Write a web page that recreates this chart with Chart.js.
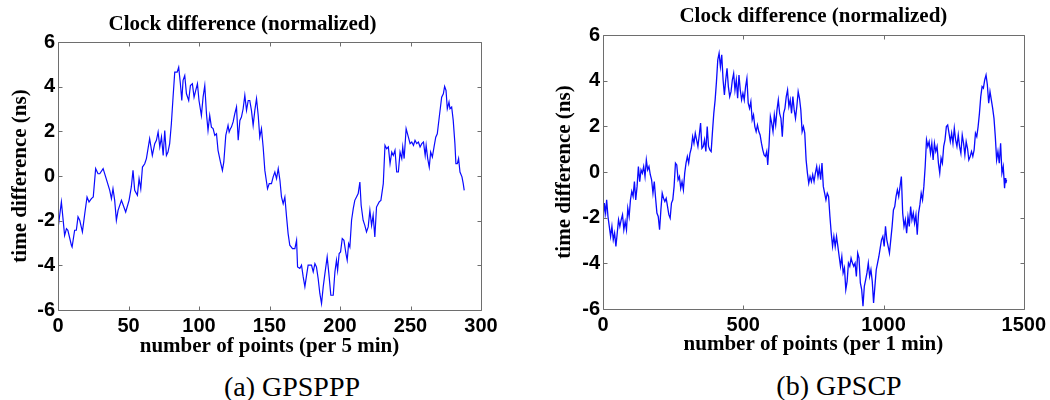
<!DOCTYPE html>
<html><head><meta charset="utf-8">
<script src="https://cdn.jsdelivr.net/npm/chart.js@4"></script>
<style>
html,body{margin:0;padding:0;background:#fff;width:1050px;height:400px;overflow:hidden}
canvas{position:absolute;top:0}
#cA{left:0}
#cB{left:525px}
.cap{position:absolute;font-family:"Liberation Serif","Times New Roman",serif;font-size:28px;color:#000;white-space:nowrap;transform:translate(-50%,-50%)}
</style></head><body>
<canvas id="cA" width="525" height="363"></canvas>
<canvas id="cB" width="525" height="361"></canvas>
<div class="cap" style="left:292px;top:387px">(a) GPSPPP</div>
<div class="cap" style="left:839px;top:386px">(b) GPSCP</div>
<script>
const chartTitle = 'Clock difference (normalized)';
const yTitle = 'time difference (ns)';
const leftXTitle = 'number of points (per 5 min)';
const rightXTitle = 'number of points (per 1 min)';
const yTicks = [-6, -4, -2, 0, 2, 4, 6];
const leftXTicks = [0, 50, 100, 150, 200, 250, 300];
const rightXTicks = [0, 500, 1000, 1500];

const leftX = [0,2.4,4.7,6,7,9.5,10,11.8,13,14.2,15.4,17.3,19,20.6,22,23.7,25,26.7,28.4,29.6,32,33.8,36.7,37.9,39,40.2,41.4,42.6,45,48,50.4,52,53.2,54.4,56.3,57.5,58.7,59.9,61.5,62.7,65,66.9,68.6,69.8,71,72.2,73.4,74.6,75.7,76.9,78,79.2,80.4,81.6,82.8,84.5,85.6,86.8,87.8,88.7,89.9,91.1,92.7,93.9,95.3,96.5,97.7,98.9,100,101.7,102.9,104.1,105.3,106.4,107.6,108.8,110,111.2,112.4,113.5,115.2,116.6,117.6,119,120.6,121.4,122.3,123,124.2,125.4,126.6,127.8,129,130.1,131.3,132.5,133.7,134.9,136,137.2,138.4,139.6,140.8,142,143.1,144.3,145.5,146.7,147.9,148.6,149.8,151.4,152.6,153.8,155,156.2,157.4,158.5,159.7,160.9,162.1,163.2,164.4,166.3,168,169.2,169.9,171.5,172.7,173.9,175.1,176.3,177.4,179.8,181,182.2,183.3,184.5,185.7,186.9,188.1,189.3,190.9,192.1,193.5,195.2,196.4,197.5,198.3,199.4,200.4,201.6,202.8,204.2,205.1,206.1,207,208.2,209.4,210.5,211.7,212.9,214.1,215,216.4,217.6,218.8,220,221.2,222.4,223.5,224.7,225.9,227.8,229,230.7,231.9,233.1,234.3,235.5,236.7,237.8,239,240.2,241.4,242.6,243.8,244.5,245.5,246.9,248.5,249.7,250.9,252.1,253.2,254.4,255.6,256.8,258,259.2,260.4,261.1,262.2,263.3,264.3,265.5,266.7,267.9,269,270.4,272.1,273.3,274.2,275.2,276.1,277.3,278,279.2,280.3,281.5,282.2,283.2,284.1,285.1,286.5,287.4,288.1];
const leftY = [-2.36,-1.16,-2.66,-2.36,-2.43,-3.1,-3.18,-2.43,-2.43,-1.83,-1.98,-2.5,-1.68,-0.94,-1.16,-1.01,-0.94,0.33,0.1,0.1,0.33,-0.04,-0.64,-1.01,-0.57,-1.09,-1.98,-1.54,-1.09,-1.61,-1.09,-0.49,0.25,-0.64,-0.86,-0.12,-0.57,0.4,0.55,0.78,1.67,0.92,1.45,1.6,1.97,1.3,1.75,0.92,2.04,0.92,1.07,1.45,2.34,3.53,4.65,4.65,4.87,4.13,3.38,4.28,4.5,3.68,3.38,4.05,4.13,3.53,3.83,4.13,3.38,2.71,3.53,4.05,2.79,2.04,2.71,2.19,2.12,1.82,1.89,1.15,0.63,0.25,0.63,1.82,2.27,1.97,2.12,2.19,2.42,2.79,3.09,1.6,2.49,2.64,3.01,3.61,2.94,3.38,3.38,2.94,2.27,2.94,3.46,2.71,1.74,2.12,1.3,0.25,-0.27,-0.57,-0.34,-0.34,-0.04,0.18,-0.12,0.33,-0.19,-0.94,-1.24,-0.94,-1.83,-2.58,-3.1,-3.25,-3.25,-2.88,-4.07,-4.14,-3.99,-4.52,-4.96,-4.44,-3.99,-3.99,-4.29,-3.92,-4.07,-4.59,-5.26,-5.71,-4.96,-4.37,-3.62,-4.37,-5.34,-5.34,-4.29,-3.77,-4.22,-3.47,-3.4,-2.8,-2.88,-3.47,-3.77,-3.03,-3.18,-1.98,-1.46,-1.09,-0.94,-0.79,-0.27,-1.31,-1.98,-2.21,-2.5,-2.28,-1.54,-2.21,-1.76,-2.73,-1.39,-1.16,-1.09,-0.34,1.37,1.22,1.3,0.55,1.07,0.92,1.15,0.18,0.18,1.07,0.78,1.3,0.78,2.12,1.74,1.45,1.52,1.37,1.6,1.45,1.52,1.3,1.45,1.52,0.92,1.37,0.78,0.4,1.07,0.85,1.3,1.74,1.89,2.64,3.53,3.68,4.01,3.83,3.01,3.31,3.01,3.09,2.49,1.45,0.55,0.55,0.78,0.18,-0.04,-0.34,-0.64];

const rightX = [0,4.7,9.4,13,17.7,22.4,27.1,31.8,36.6,41.3,46,50.7,55.4,60.1,64.9,69.6,74.3,79,83.7,88.4,93.2,97.9,102.6,107.3,112,116.7,121.5,126.2,130.9,135.6,140.3,145,149.8,154.5,159.2,163.9,168.6,173.3,178.1,182.8,187.5,192.2,196.9,201.7,206.4,211.1,215.8,220.5,225.2,230,234.7,239.4,244.1,248.8,253.5,258.3,263,267.7,272.4,277.1,281.8,286.6,291.3,296,300.7,305.4,310.1,314.9,319.6,324.3,329,333.7,338.4,343.2,347.9,352.6,357.3,362,366.7,371.5,376.2,380.9,385.6,390.3,395,399.8,404.5,409.2,413.9,418.6,423.3,428.1,432.8,437.5,442.2,446.9,451.7,456.4,461.1,465.8,470.5,475.2,480,484.7,489.4,494.1,498.8,503.5,508.3,513,517.7,522.4,527.1,531.8,536.6,541.3,546,550.7,555.4,560.1,564.9,569.6,574.3,579,583.7,587.3,592,596.7,601.4,606.1,610.8,615.6,620.3,625,629.7,634.4,639.2,643.9,648.6,653.3,658,662.7,667.5,672.2,676.9,681.6,686.3,691,695.8,700.5,705.2,709.9,714.6,719.3,724.1,728.8,733.5,738.2,742.9,747.6,752.4,757.1,761.8,766.5,771.2,775.9,780.7,785.4,790.1,794.8,799.5,804.2,809,813.7,818.4,823.1,827.8,832.5,837.3,842,846.7,851.4,856.1,860.8,865.6,870.3,875,879.7,884.4,889.2,893.9,898.6,903.3,908,912.7,917.5,922.2,926.9,931.6,936.3,941,945.8,950.5,955.2,959.9,964.6,969.3,974.1,978.8,983.5,988.2,992.9,997.6,1002.4,1007.1,1011.8,1016.5,1021.2,1025.9,1030.7,1035.4,1040.1,1044.8,1049.5,1054.2,1059,1063.7,1068.4,1073.1,1077.8,1082.5,1087.3,1092,1096.7,1101.4,1106.1,1110.8,1115.6,1120.3,1125,1129.7,1134.4,1139.2,1143.9,1148.6,1153.3,1158,1162.7,1167.5,1172.2,1176.9,1181.6,1186.3,1191,1195.8,1200.5,1205.2,1209.9,1214.6,1219.3,1224.1,1228.8,1233.5,1238.2,1242.9,1247.6,1252.4,1257.1,1261.8,1266.5,1271.2,1275.9,1280.7,1285.4,1290.1,1294.8,1299.5,1304.2,1309,1313.7,1318.4,1323.1,1327.8,1332.5,1337.3,1342,1346.7,1351.4,1356.1,1360.8,1365.6,1370.3,1375,1379.7,1384.4,1389.2,1393.9,1398.6,1403.3,1408,1412.7,1417.5,1422.2,1426.9,1431.6,1434,1436.3,1438.7];
const rightY = [-2.38,-1.36,-1.8,-1.22,-1.95,-2.38,-2.82,-2.38,-2.97,-2.68,-3.26,-2.68,-2.09,-2.38,-2.09,-1.87,-2.53,-2.17,-2.53,-1.58,-1.95,-1.22,-0.85,-1.07,-0.42,-1.22,-0.63,0.24,-0.42,0.09,-0.05,0.24,-0.2,0.53,0.09,0.24,-0.12,-0.34,-0.93,-0.42,-1.15,-1.8,-1.95,-2.53,-1.66,-0.93,-1.15,-1.29,-1.15,-1.51,-1.87,-2.02,-1.36,-1.22,-0.63,0.39,0.31,-0.34,-0.2,-0.71,-0.42,-0.78,-0.05,0.39,0.68,0.39,0.82,1.04,1.55,1.26,1.7,1.41,1.12,1.62,2.14,1.04,1.12,1.41,0.9,1.99,1.12,0.97,0.9,1.77,2.57,3.16,3.96,4.91,5.2,4.61,5.13,4.03,3.37,4.03,4.54,3.74,3.3,3.52,4.03,4.32,3.59,4.03,3.23,4.25,3.59,3.16,3.45,3.16,3.74,4.1,3.01,2.79,3.08,2.28,2.5,1.99,1.77,2.06,1.77,1.62,1.26,0.97,0.75,0.68,0.9,0.31,1.19,2.43,2.14,1.77,2.5,2.06,2.72,3.16,2.57,2.35,1.55,2.57,2.79,3.3,3.59,2.87,3.16,2.57,3.3,2.72,2.35,2.87,3.52,3.23,2.72,1.77,1.99,1.7,0.53,-0.05,-0.49,-0.2,-0.42,-0.12,-0.42,-0.05,0.24,-0.2,0.17,-0.34,0.39,-0.63,-0.93,-1.22,-0.93,-1.07,-1.95,-2.68,-3.26,-2.82,-3.26,-2.82,-3.26,-3.7,-4.13,-3.7,-4.42,-4.2,-5.15,-4.79,-3.99,-4.13,-3.77,-3.99,-4.13,-3.99,-4.57,-3.55,-3.77,-4.86,-5.15,-5.88,-5.01,-4.72,-4.42,-3.99,-4.57,-4.28,-4.79,-5.74,-5.01,-4.28,-3.99,-3.7,-3.33,-2.97,-2.82,-3.26,-2.38,-2.97,-3.26,-3.55,-2.97,-2.38,-1.66,-1.51,-1.07,-0.78,-1.07,-0.63,-0.2,-1.8,-2.38,-2.09,-2.68,-1.95,-2.38,-1.51,-2.09,-1.8,-2.24,-1.87,-2.75,-1.8,-1.44,-0.93,-1.22,-0.63,0.24,1.41,1.12,1.33,0.82,1.26,0.53,1.26,0.9,1.12,0.39,-0.05,0.61,0.39,1.12,1.41,1.99,2.06,1.7,1.33,1.7,1.26,1.92,1.41,1.12,1.62,1.12,0.82,1.62,1.26,0.75,1.33,1.04,0.53,0.68,0.9,0.68,0.97,1.7,1.55,1.99,2.57,3.3,3.74,3.67,4.03,4.25,3.81,3.01,3.52,3.16,2.79,2.35,1.55,0.53,0.9,0.39,1.26,-0.05,0.24,-0.71,-0.27,-0.49,-0.34];

const serifBold = {family: "'Liberation Serif','Times New Roman',serif", size: 21, weight: 'bold'};
const sansBold = {family: "'Liberation Sans',Arial,sans-serif", size: 20, weight: 'bold'};

const boxTicks = {
  id: 'boxTicks',
  afterDatasetsDraw(chart) {
    const {ctx, chartArea: a, scales: {x, y}} = chart;
    const L = 4;
    ctx.save();
    ctx.strokeStyle = '#6e6e6e';
    ctx.lineWidth = 1;
    ctx.beginPath();
    const l = Math.round(a.left) + 0.5, r = Math.round(a.right) + 0.5;
    const t = Math.round(a.top) + 0.5, b = Math.round(a.bottom) + 0.5;
    ctx.rect(l, t, r - l, b - t);
    x.ticks.forEach(tk => {
      const p = Math.round(x.getPixelForValue(tk.value)) + 0.5;
      ctx.moveTo(p, b); ctx.lineTo(p, b - L);
      ctx.moveTo(p, t); ctx.lineTo(p, t + L);
    });
    y.ticks.forEach(tk => {
      const p = Math.round(y.getPixelForValue(tk.value)) + 0.5;
      ctx.moveTo(l, p); ctx.lineTo(l + L, p);
      ctx.moveTo(r, p); ctx.lineTo(r - L, p);
    });
    ctx.stroke();
    ctx.restore();
  }
};

function makeChart(id, xs, ys, xTicks, xTitle, cfg) {
  const pts = xs.map((v, i) => ({x: v, y: ys[i]}));
  return new Chart(document.getElementById(id), {
    type: 'line',
    data: {datasets: [{data: pts, borderColor: '#0a0aff', borderWidth: cfg.lw, pointRadius: 0, tension: 0, fill: false}]},
    options: {
      responsive: false, animation: false, devicePixelRatio: 1,
      layout: {padding: cfg.pad},
      plugins: {
        legend: {display: false}, tooltip: {enabled: false},
        title: {display: true, text: chartTitle, color: '#000', font: serifBold, padding: cfg.tpad, fullSize: cfg.full}
      },
      scales: {
        x: {
          type: 'linear', min: xTicks[0], max: xTicks[xTicks.length - 1],
          afterBuildTicks: s => { s.ticks = xTicks.map(v => ({value: v})); },
          afterFit: s => { s.height = cfg.xh; },
          grid: {display: false, drawTicks: false}, border: {display: false},
          ticks: {color: '#000', font: sansBold, padding: 4, maxRotation: 0, autoSkip: false, callback: v => String(v)},
          title: {display: true, text: xTitle, color: '#000', font: serifBold, padding: {top: 0, bottom: 4}}
        },
        y: {
          min: -6, max: 6,
          afterBuildTicks: s => { s.ticks = yTicks.map(v => ({value: v})); },
          afterFit: s => { s.width = cfg.yw; },
          grid: {display: false, drawTicks: false}, border: {display: false},
          ticks: {color: '#000', font: sansBold, padding: 3, autoSkip: false, callback: v => String(v)},
          title: {display: true, text: yTitle, color: '#000', font: serifBold, padding: {top: 4, bottom: 0}}
        }
      }
    },
    plugins: [boxTicks]
  });
}

makeChart('cA', leftX, leftY, leftXTicks, leftXTitle,
  {lw: 1.2, pad: {left: 4, right: 44, top: 0, bottom: 0}, tpad: {top: 12.4, bottom: 4.4}, full: true, xh: 53, yw: 54});
makeChart('cB', rightX, rightY, rightXTicks, rightXTitle,
  {lw: 1.3, pad: {left: 23, right: 23, top: 0, bottom: 0}, tpad: {top: 4.4, bottom: 5.4}, full: false, xh: 52, yw: 55});
</script>
</body></html>
